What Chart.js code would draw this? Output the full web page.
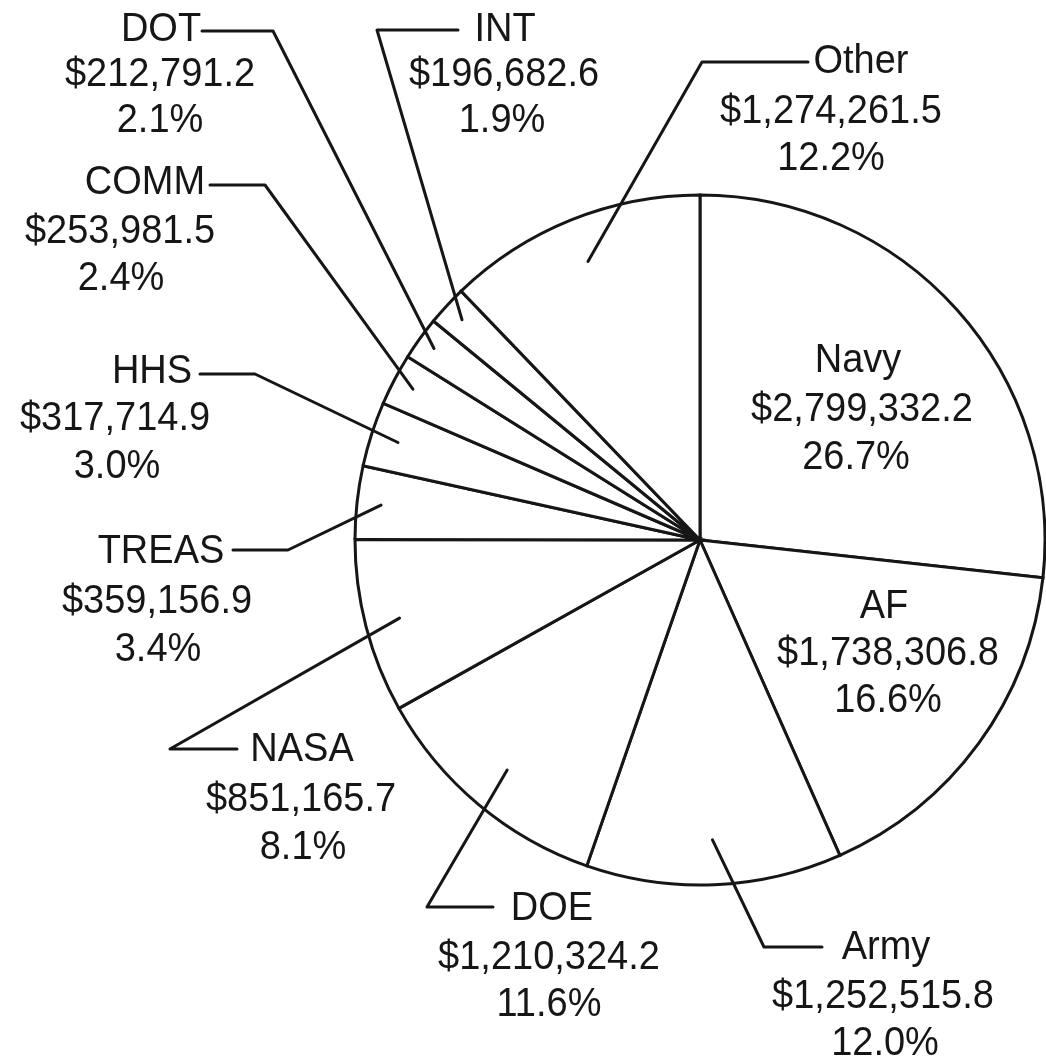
<!DOCTYPE html>
<html><head><meta charset="utf-8">
<script src="https://cdn.jsdelivr.net/npm/chart.js@4/dist/chart.umd.min.js"></script>
<style>html,body{margin:0;padding:0;background:#fff;overflow:hidden}canvas{display:block}</style>
</head><body>
<canvas id="c" width="1046" height="1061"></canvas>
<script>
// ---- data ----
const categories = ['Navy','AF','Army','DOE','NASA','TREAS','HHS','COMM','DOT','INT','Other'];
const amounts = [2799332.2, 1738306.8, 1252515.8, 1210324.2, 851165.7, 359156.9, 317714.9, 253981.5, 212791.2, 196682.6, 1274261.5];
const shares = [26.7, 16.6, 12.0, 11.6, 8.1, 3.4, 3.0, 2.4, 2.1, 1.9, 12.2];

const FONT = '38px "Liberation Sans", Arial, Helvetica, sans-serif';
const INK = '#161616';
const TEXT_STRETCH_Y = 1.07;

// text placement (line centers) and leader elbows
const labelLayout = {
  Navy:  {x:[858,862,856], y:[361,410,458]},
  AF:    {x:[884,888,888], y:[607,654,701]},
  Army:  {x:[886,883,885], y:[948,997,1044], leader:[[822,947],[764,947]], r:0.87},
  DOE:   {x:[552,549,549], y:[909,958,1005], leader:[[493,907],[427,907]], r:0.87},
  NASA:  {x:[302,301,303], y:[750,800,848], leader:[[237,749],[170,749]], r:0.9},
  TREAS: {x:[161,157,158], y:[552,602,650], leader:[[233,550],[288,550]], r:0.93},
  HHS:   {x:[152,115,117], y:[372,419,467], leader:[[200,374],[255,374]], r:0.92},
  COMM:  {x:[145,120,121], y:[183,232,279], leader:[[210,185],[265,185]], r:0.94},
  DOT:   {x:[161,160,160], y:[30,75,121],   leader:[[202,31],[273,31]],  r:0.95},
  INT:   {x:[505,504,502], y:[30,75,121],   leader:[[458,30],[377,30]],  r:0.94},
  Other: {x:[861,831,831], y:[62,112,159],  leader:[[808,62],[702,62]],  r:0.87}
};

function fmtAmount(v){
  return '$' + v.toLocaleString('en-US',{minimumFractionDigits:1, maximumFractionDigits:1});
}

const labelPlugin = {
  id: 'labels',
  afterDatasetsDraw(chart){
    const ctx = chart.ctx;
    const meta = chart.getDatasetMeta(0);
    ctx.save();
    ctx.strokeStyle = INK;
    ctx.lineWidth = 3;
    ctx.lineCap = 'round';
    ctx.lineJoin = 'round';
    meta.data.forEach((arc, i) => {
      const name = categories[i];
      const L = labelLayout[name];
      if (!L) return;
      if (L.leader){
        const p = arc.getProps(['x','y','startAngle','endAngle','outerRadius'], true);
        const mid = (p.startAngle + p.endAngle) / 2;
        const ex = p.x + Math.cos(mid) * p.outerRadius * L.r;
        const ey = p.y + Math.sin(mid) * p.outerRadius * L.r;
        ctx.beginPath();
        ctx.moveTo(L.leader[0][0], L.leader[0][1]);
        for (let k = 1; k < L.leader.length; k++) ctx.lineTo(L.leader[k][0], L.leader[k][1]);
        ctx.lineTo(ex, ey);
        ctx.stroke();
      }
      const lines = [name, fmtAmount(amounts[i]), shares[i].toFixed(1) + '%'];
      ctx.fillStyle = INK;
      ctx.font = FONT;
      ctx.textAlign = 'center';
      ctx.textBaseline = 'middle';
      lines.forEach((t, j) => {
        ctx.save();
        ctx.translate(L.x[j], L.y[j]);
        ctx.scale(1, TEXT_STRETCH_Y);
        ctx.fillText(t, 0, 0);
        ctx.restore();
      });
    });
    ctx.restore();
  }
};

new Chart(document.getElementById('c'), {
  type: 'pie',
  data: {
    labels: categories,
    datasets: [{
      data: amounts,
      backgroundColor: '#ffffff',
      borderColor: INK,
      borderWidth: 3,
      borderJoinStyle: 'miter'
    }]
  },
  options: {
    responsive: false,
    animation: false,
    devicePixelRatio: 1,
    radius: 345,
    layout: {padding: {left: 354, right: 0, top: 194, bottom: 175}},
    plugins: {legend: {display: false}, tooltip: {enabled: false}}
  },
  plugins: [labelPlugin]
});
</script>
</body></html>
